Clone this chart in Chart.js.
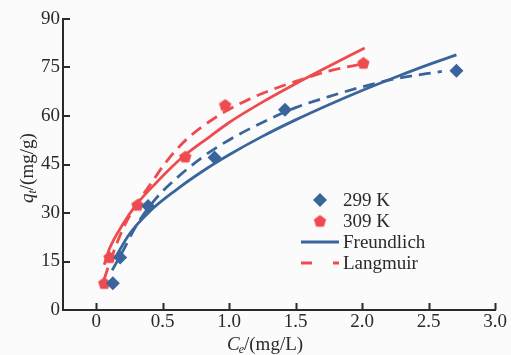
<!DOCTYPE html>
<html>
<head>
<meta charset="utf-8">
<script src="https://cdn.jsdelivr.net/npm/chart.js@4.4.1/dist/chart.umd.min.js"></script>
<style>
  html, body { margin: 0; padding: 0; background: #fbfbfb; }
  #wrap { width: 511px; height: 355px; }
</style>
</head>
<body>
<div id="wrap"><canvas id="iso"></canvas></div>
<script>
// Axis ticks
const xTicks = [0, 0.5, 1.0, 1.5, 2.0, 2.5, 3.0];
const yTicks = [0, 15, 30, 45, 60, 75, 90];

// Measured adsorption points
const ce299 = [0.125, 0.18, 0.39, 0.89, 1.42, 2.71];
const qt299 = [8.3, 16.2, 32.2, 47.2, 61.9, 74.0];
const ce309 = [0.06, 0.10, 0.31, 0.67, 0.97, 2.01];
const qt309 = [8.3, 16.3, 32.5, 47.4, 63.4, 76.4];

// Freundlich fit curves
const freuX299 = [0.14, 0.25, 0.4, 0.6, 0.8, 1.0, 1.25, 1.5, 1.75, 2.0, 2.25, 2.5, 2.71];
const freuY299 = [16.0, 23.5, 30.4, 37.1, 42.9, 48.0, 53.7, 58.8, 63.5, 67.9, 72.0, 75.9, 78.9];
const freuX309 = [0.06, 0.1, 0.2, 0.3, 0.45, 0.65, 0.85, 1.0, 1.25, 1.5, 1.75, 2.02];
const freuY309 = [14.0, 19.0, 26.5, 32.5, 39.3, 47.3, 53.5, 58.0, 64.3, 70.0, 75.4, 81.0];

// Langmuir fit curves
const langX299 = [0.12, 0.2, 0.3, 0.45, 0.6, 0.8, 1.0, 1.25, 1.5, 1.75, 2.0, 2.25, 2.6];
const langY299 = [12.3, 18.2, 26.0, 34.5, 40.6, 47.3, 52.6, 58.0, 62.6, 66.0, 69.0, 71.5, 73.8];
const langX309 = [0.06, 0.1, 0.2, 0.3, 0.41, 0.53, 0.68, 0.9, 1.1, 1.3, 1.5, 1.75, 2.02];
const langY309 = [9.5, 14.5, 25.0, 32.5, 39.0, 46.0, 52.8, 59.6, 64.2, 67.8, 70.7, 73.9, 76.3];

const BLUE = '#3a659c';
const RED = '#ee4b50';
const INK = '#2a2a2a';
const FONT = "'Liberation Serif', 'Times New Roman', serif";

const pts = (xs, ys) => xs.map((x, i) => ({ x: x, y: ys[i] }));

// pentagon marker, Chart.js has no built-in one
function pentagon(color, r) {
    const c = document.createElement('canvas');
    const s = Math.ceil(r * 2 + 2);
    c.width = s; c.height = s;
    const g = c.getContext('2d');
    g.fillStyle = color;
    g.beginPath();
    for (let i = 0; i < 5; i++) {
        const a = -Math.PI / 2 + i * 2 * Math.PI / 5;
        const px = s / 2 + r * Math.cos(a);
        const py = s / 2 + 0.6 + r * Math.sin(a);
        i ? g.lineTo(px, py) : g.moveTo(px, py);
    }
    g.closePath();
    g.fill();
    return c;
}
const pent = pentagon(RED, 6.5);

const lineDs = (label, data, color, dash) => ({
    label: label,
    data: data,
    showLine: true,
    borderColor: color,
    borderWidth: 2.8,
    borderDash: dash,
    pointRadius: 0,
    cubicInterpolationMode: 'monotone',
    order: 2
});

// draws inward ticks, axis titles and the legend
const decor = {
    id: 'decor',
    beforeDraw(chart) {
        const ctx = chart.ctx;
        ctx.save();
        ctx.fillStyle = '#fbfbfb';
        ctx.fillRect(0, 0, chart.width, chart.height);
        ctx.restore();
    },
    afterDraw(chart) {
        const ctx = chart.ctx;
        const xs = chart.scales.x, ys = chart.scales.y;
        const area = chart.chartArea;
        ctx.save();
        ctx.strokeStyle = INK;
        ctx.lineWidth = 2;
        xs.ticks.forEach(t => {
            const px = Math.round(xs.getPixelForValue(t.value)) + 0.5;
            ctx.beginPath();
            ctx.moveTo(px, area.bottom);
            ctx.lineTo(px, area.bottom - 7);
            ctx.stroke();
        });
        ys.ticks.forEach(t => {
            const py = Math.round(ys.getPixelForValue(t.value));
            ctx.beginPath();
            ctx.moveTo(area.left, py);
            ctx.lineTo(area.left + 7, py);
            ctx.stroke();
        });

        // x title: Ce/(mg/L)
        ctx.fillStyle = INK;
        ctx.textBaseline = 'alphabetic';
        ctx.textAlign = 'left';
        let x = 227, y = 350;
        ctx.font = 'italic 19px ' + FONT;
        ctx.fillText('C', x, y);
        x += ctx.measureText('C').width;
        ctx.font = 'italic 12px ' + FONT;
        ctx.fillText('e', x - 1, y + 3);
        x += ctx.measureText('e').width - 1;
        ctx.font = '19px ' + FONT;
        ctx.fillText('/(mg/L)', x, y);

        // y title: qt/(mg/g), rotated
        ctx.save();
        ctx.translate(33, 203);
        ctx.rotate(-Math.PI / 2);
        x = 0;
        ctx.font = 'italic 19px ' + FONT;
        ctx.fillText('q', x, 0);
        x += ctx.measureText('q').width;
        ctx.font = 'italic 12px ' + FONT;
        ctx.fillText('t', x, 3);
        x += ctx.measureText('t').width;
        ctx.font = '19px ' + FONT;
        ctx.fillText('/(mg/g)', x, 0);
        ctx.restore();

        // legend
        const ds = chart.data.datasets;
        ctx.font = '19px ' + FONT;
        ctx.textBaseline = 'middle';
        ctx.fillStyle = BLUE;
        ctx.beginPath();
        ctx.moveTo(320, 193); ctx.lineTo(327, 200); ctx.lineTo(320, 207); ctx.lineTo(313, 200);
        ctx.closePath();
        ctx.fill();
        ctx.drawImage(pent, 320 - pent.width / 2, 221 - pent.height / 2);
        ctx.lineWidth = 2.8;
        ctx.strokeStyle = BLUE;
        ctx.beginPath(); ctx.moveTo(301, 242); ctx.lineTo(339, 242); ctx.stroke();
        ctx.strokeStyle = RED;
        ctx.setLineDash([11, 21]);
        ctx.beginPath(); ctx.moveTo(301, 263); ctx.lineTo(339, 263); ctx.stroke();
        ctx.setLineDash([]);
        ctx.fillStyle = INK;
        ctx.fillText(ds[0].label, 343, 201);
        ctx.fillText(ds[1].label, 343, 222);
        ctx.fillText(ds[2].label, 343, 243);
        ctx.fillText(ds[4].label, 343, 264);
        ctx.restore();
    }
};

new Chart(document.getElementById('iso'), {
    type: 'scatter',
    data: {
        datasets: [
            { label: '299 K', data: pts(ce299, qt299), backgroundColor: BLUE, borderWidth: 0,
              pointStyle: 'rectRot', pointRadius: 7, order: 0 },
            { label: '309 K', data: pts(ce309, qt309), backgroundColor: RED, borderWidth: 0,
              pointStyle: pent, order: 0 },
            lineDs('Freundlich', pts(freuX299, freuY299), BLUE, []),
            lineDs('Freundlich', pts(freuX309, freuY309), RED, []),
            lineDs('Langmuir', pts(langX299, langY299), BLUE, [12, 7]),
            lineDs('Langmuir', pts(langX309, langY309), RED, [12, 7])
        ]
    },
    options: {
        responsive: true,
        maintainAspectRatio: false,
        animation: false,
        layout: { padding: { left: 0, right: 16, top: 19, bottom: 0 } },
        plugins: { legend: { display: false }, tooltip: { enabled: false } },
        scales: {
            x: {
                type: 'linear',
                min: -0.25,
                max: 3.0,
                afterBuildTicks: s => { s.ticks = xTicks.map(v => ({ value: v })); },
                afterFit: s => { s.height = 45; },
                grid: { display: false, drawTicks: false },
                border: { display: true, color: INK, width: 2 },
                ticks: {
                    padding: 1,
                    color: INK,
                    font: { family: FONT, size: 19 },
                    callback: v => v === 0 ? '0' : v.toFixed(1)
                }
            },
            y: {
                min: 0,
                max: 90,
                afterBuildTicks: s => { s.ticks = yTicks.map(v => ({ value: v })); },
                afterFit: s => { s.width = 63; },
                grid: { display: false, drawTicks: false },
                border: { display: true, color: INK, width: 2 },
                ticks: {
                    padding: 3,
                    color: INK,
                    font: { family: FONT, size: 19 }
                }
            }
        }
    },
    plugins: [decor]
});
</script>
</body>
</html>
